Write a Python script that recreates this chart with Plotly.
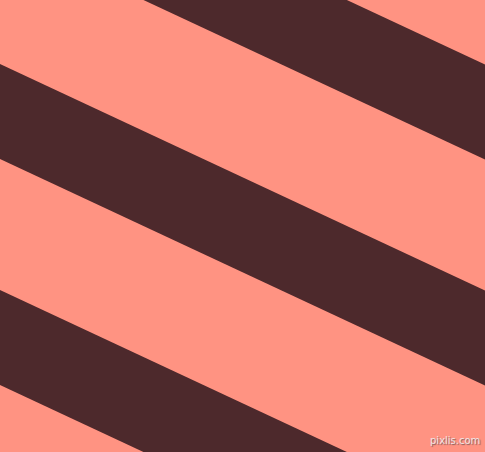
import plotly.graph_objects as go

band_top = [-162, 64, 290]
band_bottom = [-67, 159, 385]
slope = 0.467
width_px = 485
height_px = 452

salmon = '#FF9382'
brown = '#4D292C'

fig = go.Figure()

for top, bottom in zip(band_top, band_bottom):
    fig.add_trace(go.Scatter(
        x=[0, width_px, width_px, 0, 0],
        y=[top, top + slope * width_px, bottom + slope * width_px, bottom, top],
        fill='toself',
        fillcolor=brown,
        mode='lines',
        line=dict(width=0, color=brown),
        hoverinfo='skip',
        showlegend=False,
    ))

fig.update_layout(
    autosize=False,
    width=width_px,
    height=height_px,
    margin=dict(l=0, r=0, t=0, b=0, pad=0),
    paper_bgcolor=salmon,
    plot_bgcolor=salmon,
    xaxis=dict(range=[0, width_px], visible=False, fixedrange=True),
    yaxis=dict(range=[height_px, 0], visible=False, fixedrange=True),
    annotations=[dict(
        text='pixlis.com',
        x=1, y=0, xref='paper', yref='paper',
        xanchor='right', yanchor='bottom',
        xshift=-3, yshift=4,
        showarrow=False,
        font=dict(family='DejaVu Sans', size=10, color='#f3e4e4',
                  shadow='1px 1px 1px #7a5a5a'),
    )],
)

fig.write_html('out.html', config={'displayModeBar': False},
               post_script="document.body.style.margin='0';")
